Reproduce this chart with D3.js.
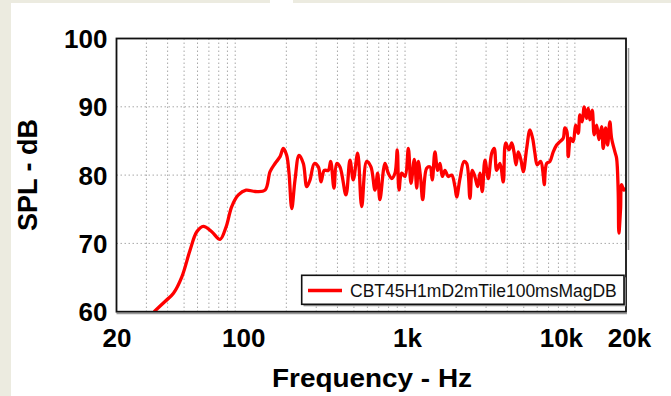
<!DOCTYPE html>
<html><head><meta charset="utf-8">
<script src="https://cdn.jsdelivr.net/npm/d3@7"></script>
<style>html,body{margin:0;padding:0;background:#fff;}svg{display:block;}</style>
</head><body>
<script>
// ---- data ----
const freqs = [33.3, 38.6, 43.3, 48.5, 54.2, 59.4, 64.9, 72.8, 81.4, 88.3, 95.4, 104.4, 115.8, 130.9, 149.9, 160.4,
  171.6, 183.7, 192, 200.9, 207.4, 215.3, 225, 237.7, 251.9, 263.8, 275.8, 292.4, 308.6, 320, 334.6, 353.4,
  364.9, 381.6, 396, 414, 449, 474, 495.8, 526, 555.6, 594.5, 630, 665, 690, 711, 762, 796,
  835, 873, 900, 921, 955, 1000, 1046, 1084, 1134, 1172, 1197, 1236, 1271, 1341, 1403, 1446,
  1500, 1556, 1606, 1657, 1718, 1797, 1882, 1968, 2014, 2106, 2224, 2307, 2411, 2488, 2577, 2677,
  2760, 2849, 2955, 3091, 3237, 3352, 3463, 3624, 3787, 3912, 4094, 4248, 4380, 4502, 4643, 4816,
  4968, 5202, 5435, 5637, 5818, 6000, 6287, 6513, 6603, 6820, 7128, 7458, 7809, 8166, 8538, 8730,
  8975, 9140, 9436, 9775, 10101, 10465, 10708, 11042, 11350, 11720, 11980, 12260, 12650, 13000, 13430, 13860,
  14370, 14680, 15170, 15580, 16070, 16450, 17210, 17600, 17990, 18160, 18580, 18840, 19440, 20000];
const spl = [60, 61.5, 62.7, 65.1, 69.0, 71.7, 72.5, 71.7, 70.6, 72.4, 75.4, 77.1, 77.8, 77.6, 77.8, 80.5,
  81.7, 82.7, 83.9, 82.9, 80.3, 75.1, 79.3, 82.9, 81.7, 78.3, 79.3, 81.7, 81.2, 79.0, 80.7, 80.7,
  82.0, 78.1, 81.7, 81.2, 77.1, 82.2, 79.3, 83.2, 75.4, 82.0, 81.2, 77.8, 80.3, 76.4, 81.7, 80.3,
  79.5, 80.3, 83.7, 77.8, 80.3, 79.8, 83.9, 78.8, 82.3, 78.1, 82.0, 79.5, 76.4, 81.0, 81.2, 79.3,
  83.4, 80.7, 81.7, 79.8, 80.7, 79.8, 80.0, 78.3, 76.8, 79.5, 82.0, 81.7, 76.6, 80.7, 79.8, 78.3,
  80.3, 77.6, 82.2, 79.5, 83.2, 83.9, 80.7, 81.7, 79.0, 84.7, 83.7, 84.7, 83.4, 81.5, 83.4, 82.2,
  80.5, 83.9, 86.6, 85.4, 83.2, 81.5, 82.0, 80.0, 78.6, 81.7, 82.0, 83.4, 84.4, 84.9, 85.4, 86.9,
  86.4, 82.7, 85.4, 84.9, 87.3, 86.1, 88.8, 87.8, 90.0, 88.3, 89.8, 88.1, 89.5, 85.9, 87.3, 85.2,
  87.1, 83.9, 86.9, 84.4, 87.8, 85.4, 83.4, 82.5, 77.6, 71.5, 75.1, 78.6, 77.8, 78.1];
const xTickValues = [20, 100, 1000, 10000, 20000];
const xTickLabels = ["20", "100", "1k", "10k", "20k"];
const yTickValues = [60, 70, 80, 90, 100];
const xGridValues = [30,40,50,60,70,80,90,100,200,300,400,500,600,700,800,900,1000,2000,3000,4000,5000,6000,7000,8000,9000,10000];
const yGridValues = [70, 80, 90];
const seriesName = "CBT45H1mD2mTile100msMagDB";
const xTitle = "Frequency - Hz";
const yTitle = "SPL - dB";

// ---- layout ----
const W = 671, H = 396;
const L = 116.5, R = 626, T = 38.5, B = 311.7;
const svg = d3.select("body").append("svg").attr("width", W).attr("height", H);
svg.append("rect").attr("width", W).attr("height", H).attr("fill", "#ecebe0");
svg.append("rect").attr("x", 11).attr("y", 3).attr("width", W - 11).attr("height", H - 3).attr("fill", "#ffffff");
svg.append("rect").attr("x", 270).attr("y", 0).attr("width", 23).attr("height", 3).attr("fill", "#ffffff");

const x = d3.scaleLog().domain([20, 20000]).range([L, R]);
const y = d3.scaleLinear().domain([60, 100]).range([B, T]);

// grid
const grid = svg.append("g");
grid.selectAll("line.vg").data(xGridValues).join("line")
  .attr("x1", d => x(d)).attr("x2", d => x(d)).attr("y1", T).attr("y2", B)
  .attr("stroke", "#a8a8a8").attr("stroke-width", 1).attr("stroke-dasharray", "1.5,2.5");
grid.selectAll("line.hg").data(yGridValues).join("line")
  .attr("x1", L).attr("x2", R).attr("y1", d => y(d)).attr("y2", d => y(d))
  .attr("stroke", "#a8a8a8").attr("stroke-width", 1).attr("stroke-dasharray", "1.5,2.5");

// curve
const data = freqs.map((f, i) => ({ f, v: spl[i] }));
svg.append("clipPath").attr("id", "clip").append("rect")
  .attr("x", L).attr("y", T).attr("width", R - L).attr("height", B - T);
svg.append("path").datum(data)
  .attr("clip-path", "url(#clip)")
  .attr("fill", "none").attr("stroke", "#ff0000").attr("stroke-width", 3.3)
  .attr("stroke-linejoin", "round")
  .attr("d", d3.line().x(d => x(d.f)).y(d => y(d.v)).curve(d3.curveCatmullRom.alpha(0.5)));

// frame shadow + frame
svg.append("line").attr("x1", R + 2.5).attr("x2", R + 2.5).attr("y1", 48).attr("y2", 250)
  .attr("stroke", "#9a9a9a").attr("stroke-width", 1.5);
svg.append("line").attr("x1", L).attr("x2", R + 1).attr("y1", B + 2).attr("y2", B + 2)
  .attr("stroke", "#9a9a9a").attr("stroke-width", 1.2);
svg.append("rect").attr("x", L).attr("y", T).attr("width", R - L).attr("height", B - T)
  .attr("fill", "none").attr("stroke", "#111").attr("stroke-width", 1.8);

// axes
const fontFam = "'Liberation Sans', Arial, Helvetica, sans-serif";
const xAxis = svg.append("g").attr("transform", `translate(0,${B})`)
  .call(d3.axisBottom(x).tickValues(xTickValues).tickFormat((d, i) => xTickLabels[i]).tickSize(0).tickPadding(0));
xAxis.select(".domain").remove();
xAxis.selectAll("text")
  .attr("font-family", fontFam).attr("font-size", 26).attr("font-weight", "bold").attr("fill", "#000")
  .attr("dy", null).attr("y", 35.5)
  .attr("dx", (d) => d === 100 ? 8 : (d === 10000 ? -14 : (d === 1000 ? 2 : (d === 20000 ? 3 : 0))));

const yAxis = svg.append("g").attr("transform", `translate(${L},0)`)
  .call(d3.axisLeft(y).tickValues(yTickValues).tickSize(0).tickPadding(0));
yAxis.select(".domain").remove();
yAxis.selectAll("text")
  .attr("font-family", fontFam).attr("font-size", 26).attr("font-weight", "bold").attr("fill", "#000")
  .attr("x", -9).attr("dy", "0.35em");

// titles
svg.append("text").attr("x", 372).attr("y", 387).attr("text-anchor", "middle")
  .attr("font-family", fontFam).attr("font-size", 26).attr("font-weight", "bold")
  .attr("textLength", 200).attr("lengthAdjust", "spacingAndGlyphs").text(xTitle);
svg.append("text").attr("transform", "translate(37,175) rotate(-90)").attr("text-anchor", "middle")
  .attr("font-family", fontFam).attr("font-size", 27).attr("font-weight", "bold").text(yTitle);

// legend
const lg = svg.append("g");
lg.append("rect").attr("x", 303.5).attr("y", 277.3).attr("width", 322.3).attr("height", 29)
  .attr("fill", "#9a9a9a");
lg.append("rect").attr("x", 301.7).attr("y", 275.3).attr("width", 322.3).attr("height", 29)
  .attr("fill", "#fff").attr("stroke", "#111").attr("stroke-width", 1.6);
lg.append("line").attr("x1", 308).attr("x2", 342).attr("y1", 290.5).attr("y2", 290.5)
  .attr("stroke", "#ff0000").attr("stroke-width", 3.3);
lg.append("text").attr("x", 350).attr("y", 297).attr("font-family", fontFam).attr("font-size", 17.5)
  .attr("fill", "#111").text(seriesName);
</script>
</body></html>
